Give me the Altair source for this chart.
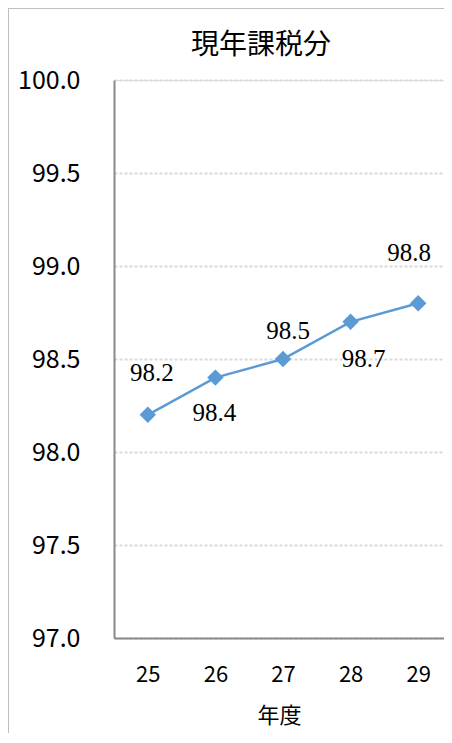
import altair as alt
import pandas as pd

years = ["25", "26", "27", "28", "29"]
rates = [98.2, 98.4, 98.5, 98.7, 98.8]
y_ticks = [97.0, 97.5, 98.0, 98.5, 99.0, 99.5, 100.0]
chart_title = "現年課税分"

# label placement (style, px offsets from each point)
label_offsets = {"25": (4, -42), "26": (-1, 35), "27": (5, -28), "28": (13, 37), "29": (-9, -50)}

df = pd.DataFrame({"year": years, "rate": rates})
df["label"] = df["rate"].map(lambda v: f"{v:.1f}")

BLUE = "#5B9BD5"
SANS = "Noto Sans CJK JP"

x_enc = alt.X("year:N", sort=None,
              scale=alt.Scale(type="point", padding=0.5, range=[0, 338]),
              axis=alt.Axis(title="年度", labelAngle=0, labelFont=SANS, labelFontSize=22,
                            labelColor="#000000", labelPadding=26, ticks=False,
                            domainColor="#898989", domainWidth=2,
                            titleFont=SANS, titleFontSize=22, titleFontWeight="normal",
                            titleColor="#000000", titlePadding=20, titleX=165))
y_enc = alt.Y("rate:Q",
              scale=alt.Scale(domain=[97, 100], nice=False, zero=False),
              axis=alt.Axis(title=None, values=y_ticks,
                            labelExpr="format(datum.value, '.1f')",
                            labelFont=SANS, labelFontSize=25, labelColor="#000000",
                            labelPadding=34, ticks=False, domainColor="#898989",
                            domainWidth=2, grid=True, gridColor="#D9D9D9",
                            gridWidth=2, gridDash=[3, 2]))

base = alt.Chart(df)

line = base.mark_line(color=BLUE, strokeWidth=2.5).encode(x=x_enc, y=y_enc)
points = base.mark_point(shape="diamond", filled=True, size=270, color=BLUE, opacity=1).encode(
    x=alt.X("year:N", sort=None), y="rate:Q")

labels = []
for yr, (dx, dy) in label_offsets.items():
    labels.append(
        base.transform_filter(alt.datum.year == yr).mark_text(
            font="Liberation Serif", fontSize=25, color="#000000",
            align="center", baseline="middle", dx=dx, dy=dy
        ).encode(x=alt.X("year:N", sort=None), y="rate:Q", text="label:N")
    )

title_mark = alt.Chart(pd.DataFrame({"t": [chart_title]})).mark_text(
    font=SANS, fontSize=28, color="#000000", align="center", baseline="middle"
).encode(x=alt.value(147), y=alt.value(-34), text="t:N")

frame_left = alt.Chart(df).mark_rule(color="#BFBFBF", strokeWidth=1).encode(
    x=alt.value(-105.5), y=alt.value(-72), y2=alt.value(700))
frame_top = alt.Chart(df).mark_rule(color="#BFBFBF", strokeWidth=1).encode(
    x=alt.value(-106), x2=alt.value(400), y=alt.value(-71.5))

chart = alt.layer(frame_left, frame_top, line, points, *labels, title_mark).properties(
    width=330, height=558,
    autosize=alt.AutoSizeParams(type="none"),
    padding={"left": 106, "top": 72, "right": 0, "bottom": 95},
).configure_view(stroke=None).configure(background="#FFFFFF")

chart.save("out.html", embed_options={"renderer": "svg", "actions": False})
